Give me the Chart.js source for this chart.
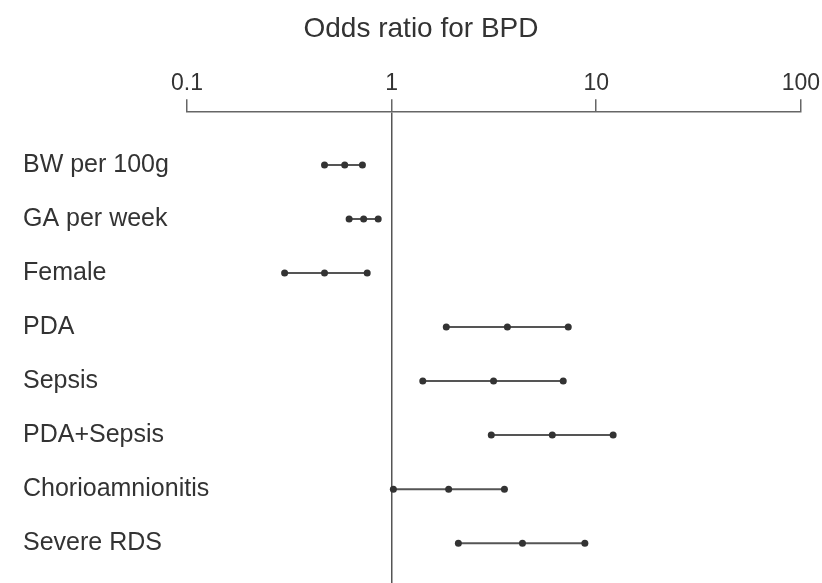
<!DOCTYPE html>
<html>
<head>
<meta charset="utf-8">
<title>Odds ratio for BPD</title>
<script src="https://cdn.jsdelivr.net/npm/chart.js@4.4.1/dist/chart.umd.min.js"></script>
<style>
  html, body { margin: 0; padding: 0; background: #fff; overflow: hidden; }
  #grafica { display: block; }
</style>
</head>
<body>
<canvas id="grafica" width="822" height="583"></canvas>
<script>
// datos
const factores = ['BW per 100g', 'GA per week', 'Female', 'PDA', 'Sepsis', 'PDA+Sepsis', 'Chorioamnionitis', 'Severe RDS'];
const inferior = [0.47, 0.62, 0.30, 1.85, 1.42, 3.07, 1.02, 2.12];
const odds     = [0.59, 0.73, 0.47, 3.68, 3.15, 6.1, 1.9, 4.36];
const superior = [0.72, 0.86, 0.76, 7.3, 6.9, 12.1, 3.56, 8.8];
const ticksX   = [0.1, 1, 10, 100];

const fuente = "'Liberation Sans', Arial, Helvetica, sans-serif";
const gris = '#333';

// un dataset por fila: limite inferior, OR, limite superior
var datasets = factores.map(function(f, i){
  return {
    label: f,
    data: [
      {x: inferior[i], y: i},
      {x: odds[i], y: i},
      {x: superior[i], y: i}
    ],
    showLine: true,
    borderColor: '#555',
    borderWidth: 2,
    pointRadius: 3.5,
    pointBackgroundColor: gris,
    pointBorderWidth: 0
  };
});

// los nombres de la izquierda son mas anchos que el eje y, se dibujan aparte
const etiquetasY = {
  id: 'etiquetasY',
  afterDraw: function(chart){
    var ctx = chart.ctx;
    var y = chart.scales.y;
    ctx.save();
    ctx.fillStyle = gris;
    ctx.font = '25px ' + fuente;
    ctx.textAlign = 'left';
    ctx.textBaseline = 'middle';
    factores.forEach(function(f, i){
      ctx.fillText(f, 23, y.getPixelForValue(i));
    });
    ctx.restore();
  }
};

const config = {
  type: 'scatter',
  data: { datasets: datasets },
  plugins: [etiquetasY],
  options: {
    responsive: false,
    animation: false,
    // padding izquierdo grande para que el titulo quede centrado como en la figura
    layout: { autoPadding: false, padding: { left: 39, right: 19, top: 0, bottom: 0 } },
    plugins: {
      legend: { display: false },
      tooltip: { enabled: false },
      title: {
        display: true,
        text: 'Odds ratio for BPD',
        color: gris,
        font: { family: fuente, size: 28, weight: 'normal' },
        padding: { top: 12, bottom: 22 }
      }
    },
    scales: {
      x: {
        type: 'logarithmic',
        position: 'top',
        min: 0.1,
        max: 100,
        afterBuildTicks: function(scale){
          scale.ticks = ticksX.map(function(v){ return {value: v}; });
        },
        ticks: {
          color: gris,
          padding: 2,
          font: { family: fuente, size: 23 },
          callback: function(v){ return String(v); }
        },
        border: { display: true, color: '#666', width: 1.5 },
        grid: {
          drawOnChartArea: true,
          tickLength: 13,
          tickColor: '#666',
          lineWidth: 1.5,
          color: function(ctx){
            return (ctx.tick && ctx.tick.value === 1) ? '#555' : 'rgba(0,0,0,0)';
          }
        }
      },
      y: {
        type: 'linear',
        reverse: true,
        min: -0.976,
        max: 7.737,
        afterBuildTicks: function(scale){
          scale.ticks = factores.map(function(f, i){ return {value: i}; });
        },
        afterFit: function(scale){
          scale.width = 148;
        },
        ticks: { display: false },
        border: { display: false },
        grid: { display: false }
      }
    }
  }
};

new Chart(document.getElementById('grafica'), config);
</script>
</body>
</html>
